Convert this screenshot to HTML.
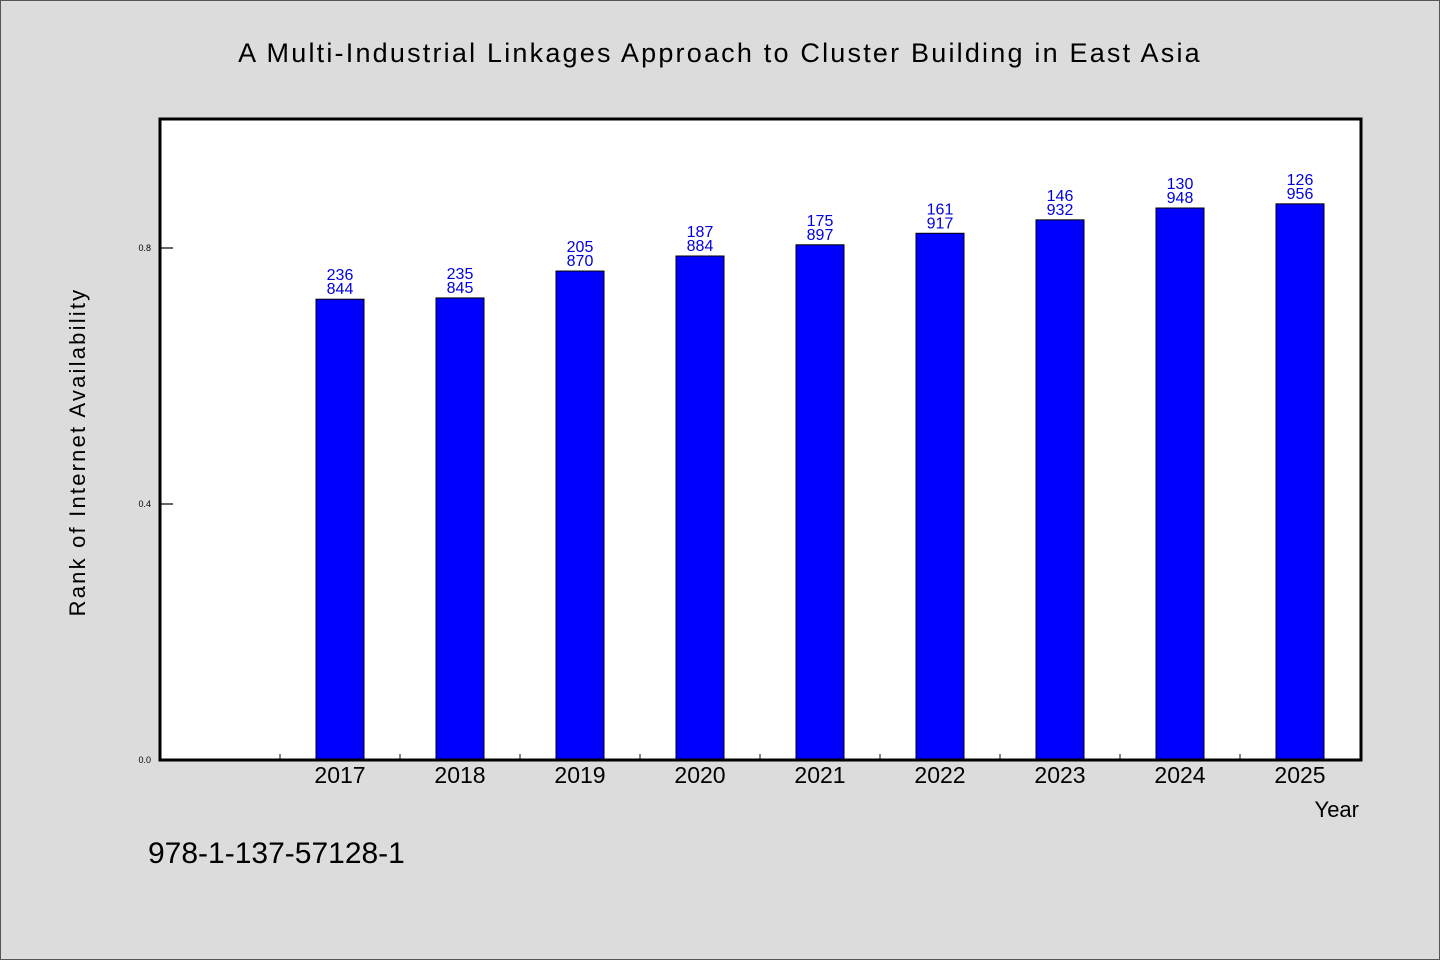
<!DOCTYPE html>
<html><head><meta charset="utf-8"><style>
html,body{margin:0;padding:0;background:#dcdcdc}
svg{display:block}
text{font-family:"WenQuanYi Zen Hei","Liberation Sans",sans-serif}
</style></head><body>
<svg width="1440" height="960" xmlns="http://www.w3.org/2000/svg" id="chart">
<rect x="0.5" y="0.5" width="1439" height="959" fill="#dcdcdc" stroke="#555"/>
<text x="720" y="62" text-anchor="middle" font-size="27" letter-spacing="2.2">A Multi-Industrial Linkages Approach to Cluster Building in East Asia</text>
<rect x="160" y="119" width="1201" height="641" fill="#fff"/>
<g id="ticks"></g>
<g id="bars"></g>
<path d="M160 119V760H1361V119Z" fill="none" stroke="#000" stroke-width="3"/>
<text transform="translate(85,452) rotate(-90)" text-anchor="middle" font-size="22" letter-spacing="2.2">Rank of Internet Availability</text>
<text x="1359" y="817" text-anchor="end" font-size="22">Year</text>
<text x="148" y="863" font-size="30">978-1-137-57128-1</text>
</svg>
<script>
const categories=["2017","2018","2019","2020","2021","2022","2023","2024","2025"];
const values=[0.720,0.722,0.764,0.7875,0.805,0.823,0.844,0.8625,0.869];
const labelTop=["236","235","205","187","175","161","146","130","126"];
const labelBottom=["844","845","870","884","897","917","932","948","956"];
const yTicks=[0,0.4,0.8];
const yTickLabels=["0.0","0.4","0.8"];
const NS="http://www.w3.org/2000/svg";
const x0=160,slot=120,yBase=760,scale=640,barW=48;
const y=v=>yBase-v*scale;
const xc=i=>x0+slot*(i+1.5);
function mk(t,a,p){const e=document.createElementNS(NS,t);for(const k in a)e.setAttribute(k,a[k]);p.appendChild(e);return e;}
const tg=document.getElementById('ticks'),bg=document.getElementById('bars');
yTicks.forEach((v,i)=>{
 const l=mk('line',{x1:160,x2:173,y1:y(v),y2:y(v),stroke:'#000','stroke-width':1.2},tg);
 
 
 const t=mk('text',{x:151,y:y(v)+3,'text-anchor':'end','font-size':9},tg);
 t.textContent=yTickLabels[i];
 
 
});
for(let k=1;k<=categories.length;k++){
 const l=mk('line',{x1:x0+slot*k,x2:x0+slot*k,y1:760,y2:754,stroke:'#000','stroke-width':1},tg);
 
 
}
categories.forEach((c,i)=>{
 const cx=xc(i),top=y(values[i]);
 const r=mk('rect',{x:cx-barW/2,y:top,width:barW,height:yBase-top,fill:'#0000ff',stroke:'#000','stroke-width':1},bg);
 
 
 const t1=mk('text',{x:cx,y:top-19,'text-anchor':'middle','font-size':16,fill:'#0000dd'},bg);
 t1.textContent=labelTop[i];
 
 
 const t2=mk('text',{x:cx,y:top-5,'text-anchor':'middle','font-size':16,fill:'#0000dd'},bg);
 t2.textContent=labelBottom[i];
 
 
 const xl=mk('text',{x:cx,y:783,'text-anchor':'middle','font-size':23},bg);
 xl.textContent=c;
 
 
});
</script>
</body></html>
